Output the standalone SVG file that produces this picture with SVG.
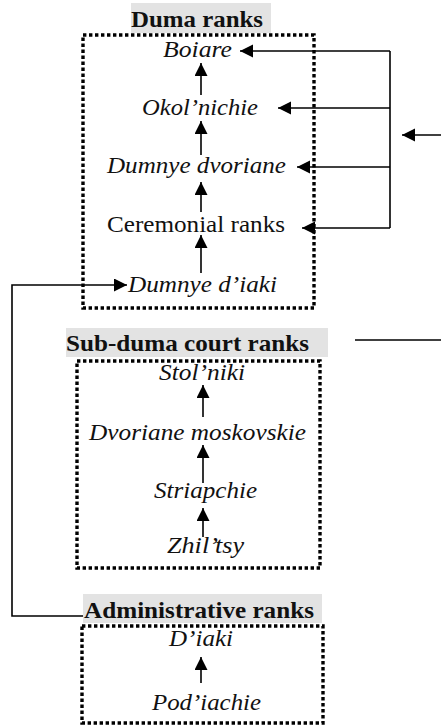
<svg xmlns="http://www.w3.org/2000/svg" width="441" height="728" viewBox="0 0 441 728">
<defs>
<marker id="ah" markerUnits="userSpaceOnUse" markerWidth="14" markerHeight="14" refX="13" refY="6.5" orient="auto">
<path d="M0,0 L13,6.5 L0,13 z" fill="#000"/>
</marker>
<style>
.t{font-family:"Liberation Serif",Tinos,"Times New Roman","DejaVu Serif",serif;font-size:22.5px;fill:#111;text-anchor:middle}
.i{font-style:italic}
.h{font-weight:bold}
.hb{fill:#e3e3e3}
.box{fill:none;stroke:#000;stroke-width:3.4;stroke-dasharray:3.4 2.6}
.c{fill:none;stroke:#000;stroke-width:1.6}
.a{marker-end:url(#ah)}
</style>
</defs>
<rect width="441" height="728" fill="#fff"/>

<g id="duma">
<rect class="hb" x="131" y="3" width="140" height="30"/>
<text class="t h" x="197" y="27" textLength="132" lengthAdjust="spacingAndGlyphs">Duma ranks</text>
<rect class="box" x="83" y="35" width="231" height="273"/>
</g>
<g id="boiare"><text class="t i" x="197.5" y="57" textLength="69" lengthAdjust="spacingAndGlyphs">Boiare</text></g>
<g id="okolnichie"><text class="t i" x="200" y="115" textLength="116" lengthAdjust="spacingAndGlyphs">Okol’nichie</text></g>
<g id="dumnye-dvoriane"><text class="t i" x="196.5" y="173" textLength="179" lengthAdjust="spacingAndGlyphs">Dumnye dvoriane</text></g>
<g id="ceremonial"><text class="t" x="196" y="232" textLength="178" lengthAdjust="spacingAndGlyphs">Ceremonial ranks</text></g>
<g id="dumnye-diaki"><text class="t i" x="202.5" y="292" textLength="149" lengthAdjust="spacingAndGlyphs">Dumnye d’iaki</text></g>

<g id="subduma">
<rect class="hb" x="66" y="328" width="262" height="29"/>
<text class="t h" x="187.5" y="351" textLength="243" lengthAdjust="spacingAndGlyphs">Sub-duma court ranks</text>
<rect class="box" x="77" y="361" width="243" height="207"/>
</g>
<g id="stolniki"><text class="t i" x="202" y="380" textLength="86" lengthAdjust="spacingAndGlyphs">Stol’niki</text></g>
<g id="dvoriane-moskovskie"><text class="t i" x="197.5" y="440" textLength="217" lengthAdjust="spacingAndGlyphs">Dvoriane moskovskie</text></g>
<g id="striapchie"><text class="t i" x="205.5" y="498" textLength="103" lengthAdjust="spacingAndGlyphs">Striapchie</text></g>
<g id="zhiltsy"><text class="t i" x="205.5" y="553" textLength="77" lengthAdjust="spacingAndGlyphs">Zhil’tsy</text></g>

<g id="admin">
<rect class="hb" x="83" y="594" width="239" height="29"/>
<text class="t h" x="199" y="618" textLength="230" lengthAdjust="spacingAndGlyphs">Administrative ranks</text>
<rect class="box" x="82" y="626" width="241" height="97"/>
</g>
<g id="diaki"><text class="t i" x="201" y="646" textLength="64" lengthAdjust="spacingAndGlyphs">D’iaki</text></g>
<g id="podiachie"><text class="t i" x="206.5" y="710" textLength="109" lengthAdjust="spacingAndGlyphs">Pod’iachie</text></g>

<g id="connectors">
<line class="c a" x1="201" y1="95" x2="201" y2="63"/>
<line class="c a" x1="201" y1="155" x2="201" y2="121"/>
<line class="c a" x1="201" y1="212" x2="201" y2="182"/>
<line class="c a" x1="201" y1="273" x2="201" y2="235"/>
<line class="c a" x1="203" y1="417" x2="203" y2="385"/>
<line class="c a" x1="203" y1="483" x2="203" y2="445"/>
<line class="c a" x1="203" y1="537" x2="203" y2="508"/>
<line class="c a" x1="201" y1="683" x2="201" y2="657"/>
<polyline class="c" points="390,51 390,228"/>
<line class="c a" x1="390" y1="51" x2="240" y2="51"/>
<line class="c a" x1="390" y1="108" x2="278" y2="108"/>
<line class="c a" x1="390" y1="167" x2="297" y2="167"/>
<line class="c a" x1="390" y1="228" x2="302" y2="228"/>
<line class="c a" x1="441" y1="135" x2="402" y2="135"/>
<line class="c" x1="355" y1="340" x2="441" y2="340"/>
<polyline class="c a" points="83,616 12,616 12,285 127,285"/>
</g>
</svg>
